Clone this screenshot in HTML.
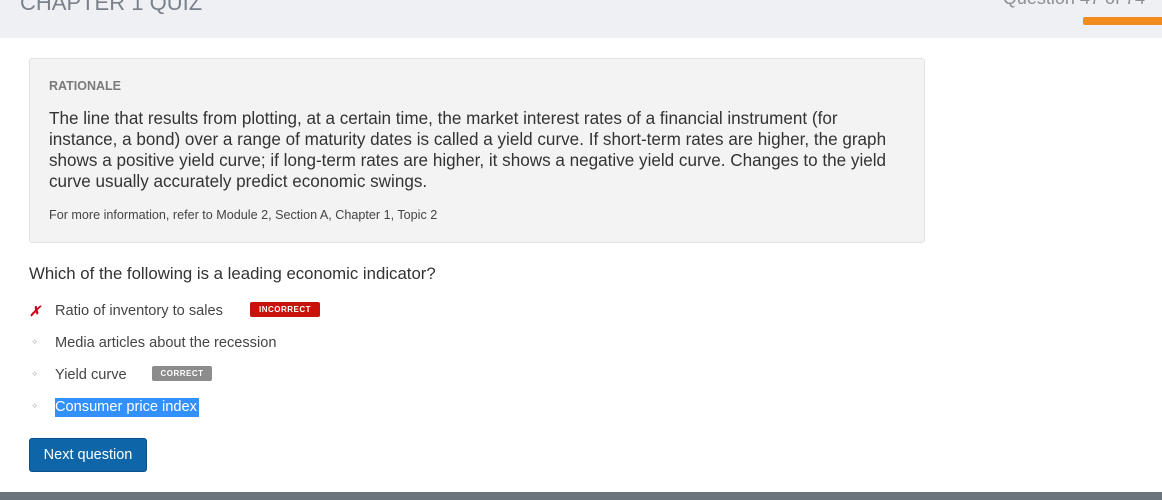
<!DOCTYPE html>
<html><head><meta charset="utf-8"><style>
body{margin:0;width:1162px;height:500px;overflow:hidden;background:#fff;font-family:"Liberation Sans",sans-serif;position:relative;color:#333}
div,span{position:absolute}
.opt{left:55px;font-size:14.6px;color:#444;white-space:nowrap}
.dot{left:31px;font-size:9px;color:#aaa}
.badge{font-size:8px;font-weight:bold;letter-spacing:.5px;color:#fff;height:15px;line-height:15px;text-align:center;border-radius:2px}
</style></head><body>
<div style="left:0;top:0;width:1162px;height:38px;background:#eff0f4">
  <span style="left:20px;top:-10px;font-size:22px;color:#7a818a;font-weight:300">CHAPTER 1 QUIZ</span>
  <span style="right:17px;top:-12px;font-size:18px;color:#8a8f96">Question 47 of 74</span>
  <span style="left:1083px;top:17px;width:79px;height:8px;background:#f28c1e;border-radius:2px 0 0 2px"></span>
</div>
<div style="left:29px;top:58px;width:894px;height:183px;background:#f3f3f3;border:1px solid #e2e2e2;border-radius:3px">
  <span style="left:19px;top:20px;font-size:12.5px;font-weight:bold;color:#7a7a7a">RATIONALE</span>
  <span style="left:19px;top:49px;width:870px;font-size:17.1px;line-height:21px;color:#333;white-space:nowrap">The line that results from plotting, at a certain time, the market interest rates of a financial instrument (for<br>instance, a bond) over a range of maturity dates is called a yield curve. If short-term rates are higher, the graph<br>shows a positive yield curve; if long-term rates are higher, it shows a negative yield curve. Changes to the yield<br>curve usually accurately predict economic swings.</span>
  <span style="left:19px;top:149px;font-size:12.6px;color:#444">For more information, refer to Module 2, Section A, Chapter 1, Topic 2</span>
</div>
<div style="left:29px;top:264px;font-size:16.8px;color:#333">Which of the following is a leading economic indicator?</div>
<span style="left:29px;top:303px;font-size:14px;color:#d0021b;font-weight:bold;font-style:italic">✗</span>
<span class="opt" style="top:303px">Ratio of inventory to sales</span>
<span class="badge" style="left:250px;top:302px;width:70px;background:#c8120b">INCORRECT</span>
<span class="dot" style="top:337px">✧</span>
<span class="opt" style="top:335px">Media articles about the recession</span>
<span class="dot" style="top:369px">✧</span>
<span class="opt" style="top:367px">Yield curve</span>
<span class="badge" style="left:152px;top:366px;width:60px;background:#8c8c8c">CORRECT</span>
<span class="dot" style="top:401px">✧</span>
<span class="opt" style="top:398px;background:#3390ff;color:#fff;padding:1px 2px 2px 0">Consumer price index</span>
<div style="left:29px;top:438px;width:116px;height:32px;background:#0e65a8;border:1px solid #0a4f86;border-radius:3px;color:#fff;font-size:14.5px;line-height:33px;text-align:center">Next question</div>
<div style="left:0;top:492px;width:1162px;height:8px;background:#6a747c"></div>
</body></html>
